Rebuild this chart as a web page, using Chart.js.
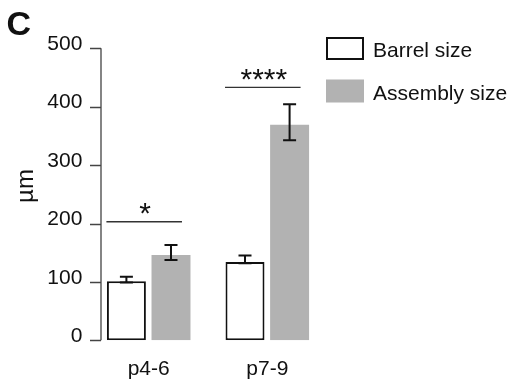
<!DOCTYPE html>
<html>
<head>
<meta charset="utf-8">
<script src="https://cdn.jsdelivr.net/npm/chart.js@4.4.1/dist/chart.umd.min.js"></script>
<style>
  html, body { margin: 0; padding: 0; background: #fff; }
  #wrap { width: 512px; height: 381px; position: relative; }
</style>
</head>
<body>
<div id="wrap"><canvas id="myChart"></canvas></div>
<script>
// data
const categories = ["p4-6", "p7-9"];
const seriesNames = ["Barrel size", "Assembly size"];
const barrelSize = [101, 134];
const assemblySize = [146, 369];
const barrelErrUp = [8, 11];
const barrelErrDown = [2, 2];
const assemblyErrUp = [17, 35];
const assemblyErrDown = [8.5, 26.5];
const sigLevel = [203, 433];
const sigMarks = ["*", "****"];
const yMin = 0;
const yMax = 500;
const yStep = 100;

const FONT = "'Liberation Sans', Arial, sans-serif";
const GREY = "#b2b2b2";
const INK = "#111";

let ctx = document.getElementById("myChart");

const errUp = [barrelErrUp, assemblyErrUp];
const errDown = [barrelErrDown, assemblyErrDown];

// everything that is not a bar: error bars, axis line, stars, legend, labels
const extras = {
  id: "extras",
  afterDatasetsDraw: function (chart) {
    const c = chart.ctx;
    const y = chart.scales.y;
    const area = chart.chartArea;

    c.save();
    // error bars
    c.strokeStyle = INK;
    c.lineWidth = 2;
    for (let d = 0; d < 2; d++) {
      const meta = chart.getDatasetMeta(d);
      meta.data.forEach((bar, i) => {
        const v = chart.data.datasets[d].data[i];
        const top = y.getPixelForValue(v + errUp[d][i]);
        const bot = y.getPixelForValue(v - errDown[d][i]);
        c.beginPath();
        c.moveTo(bar.x, top);
        c.lineTo(bar.x, bot);
        c.moveTo(bar.x - 6.5, top);
        c.lineTo(bar.x + 6.5, top);
        c.moveTo(bar.x - 6.5, bot);
        c.lineTo(bar.x + 6.5, bot);
        c.stroke();
      });
    }

    // y axis line with outside ticks
    const axisX = area.left + 11.6;
    c.strokeStyle = "#444";
    c.lineWidth = 1.3;
    c.beginPath();
    c.moveTo(axisX, y.getPixelForValue(yMax));
    c.lineTo(axisX, y.getPixelForValue(yMin));
    for (let v = yMin; v <= yMax; v += yStep) {
      const py = Math.round(y.getPixelForValue(v)) + 0.5;
      c.moveTo(axisX - 11, py);
      c.lineTo(axisX, py);
    }
    c.stroke();

    // significance lines and stars
    const m0 = chart.getDatasetMeta(0).data;
    const m1 = chart.getDatasetMeta(1).data;
    c.fillStyle = INK;
    c.textAlign = "center";
    c.textBaseline = "alphabetic";
    for (let i = 0; i < categories.length; i++) {
      const x0 = m0[i].x - m0[i].width / 2 - 0.5;
      const x1 = m1[i].x + m1[i].width / 2 - 8.5;
      const ly = y.getPixelForValue(sigLevel[i]);
      c.strokeStyle = "#333";
      c.lineWidth = 1.3;
      c.beginPath();
      c.moveTo(x0, ly);
      c.lineTo(x1, ly);
      c.stroke();
      c.font = "30px " + FONT;
      c.fillText(sigMarks[i], (x0 + x1) / 2 + 1, ly + 1.5);
    }

    // legend
    const lx = 326;
    const rows = [48.5, 91];
    c.textAlign = "left";
    chart.data.datasets.forEach((ds, d) => {
      const cy = rows[d];
      c.fillStyle = ds.backgroundColor;
      c.fillRect(lx, cy - 11.5, 38, 23);
      if (ds.borderWidth) {
        c.strokeStyle = ds.borderColor;
        c.lineWidth = 2;
        c.strokeRect(lx + 1, cy - 10.5, 36, 21);
      }
      c.fillStyle = INK;
      c.font = "21px " + FONT;
      c.fillText(ds.label, lx + 47, cy + 8.5);
    });

    // unit title
    c.save();
    c.translate(33, 186);
    c.rotate(-Math.PI / 2);
    c.textAlign = "center";
    c.font = "24px " + FONT;
    c.fillText("\u00b5m", 0, 0);
    c.restore();

    // panel letter
    c.font = "bold 34px " + FONT;
    c.textAlign = "left";
    c.fillText("C", 6.5, 35);
    c.restore();
  },
};

var config = {
  type: "bar",
  data: {
    labels: categories,
    datasets: [
      {
        label: seriesNames[0],
        data: barrelSize,
        backgroundColor: "#ffffff",
        borderColor: INK,
        borderWidth: 2,
        borderSkipped: false,
        categoryPercentage: 0.752,
        barPercentage: 0.874,
      },
      {
        label: seriesNames[1],
        data: assemblySize,
        backgroundColor: GREY,
        borderWidth: 0,
        categoryPercentage: 0.752,
        barPercentage: 0.874,
      },
    ],
  },
  options: {
    responsive: true,
    maintainAspectRatio: false,
    animation: false,
    layout: {
      padding: { top: 48.3, right: 185.4, bottom: 0, left: 0 },
    },
    scales: {
      x: {
        offset: true,
        grid: { display: false, drawTicks: false },
        border: { display: false },
        ticks: {
          color: INK,
          font: { family: FONT, size: 21 },
          padding: 16,
        },
        afterFit: function (scale) {
          scale.height = 40.7;
        },
      },
      y: {
        min: yMin,
        max: yMax,
        grid: { display: false, drawTicks: false },
        border: { display: false },
        ticks: {
          stepSize: yStep,
          color: INK,
          font: { family: FONT, size: 21 },
          padding: 7,
          labelOffset: -4,
        },
        afterFit: function (scale) {
          scale.width = 89.4;
        },
      },
    },
    plugins: {
      legend: { display: false },
      tooltip: { enabled: false },
    },
  },
  plugins: [extras],
};

const myChart = new Chart(ctx, config);
</script>
</body>
</html>
